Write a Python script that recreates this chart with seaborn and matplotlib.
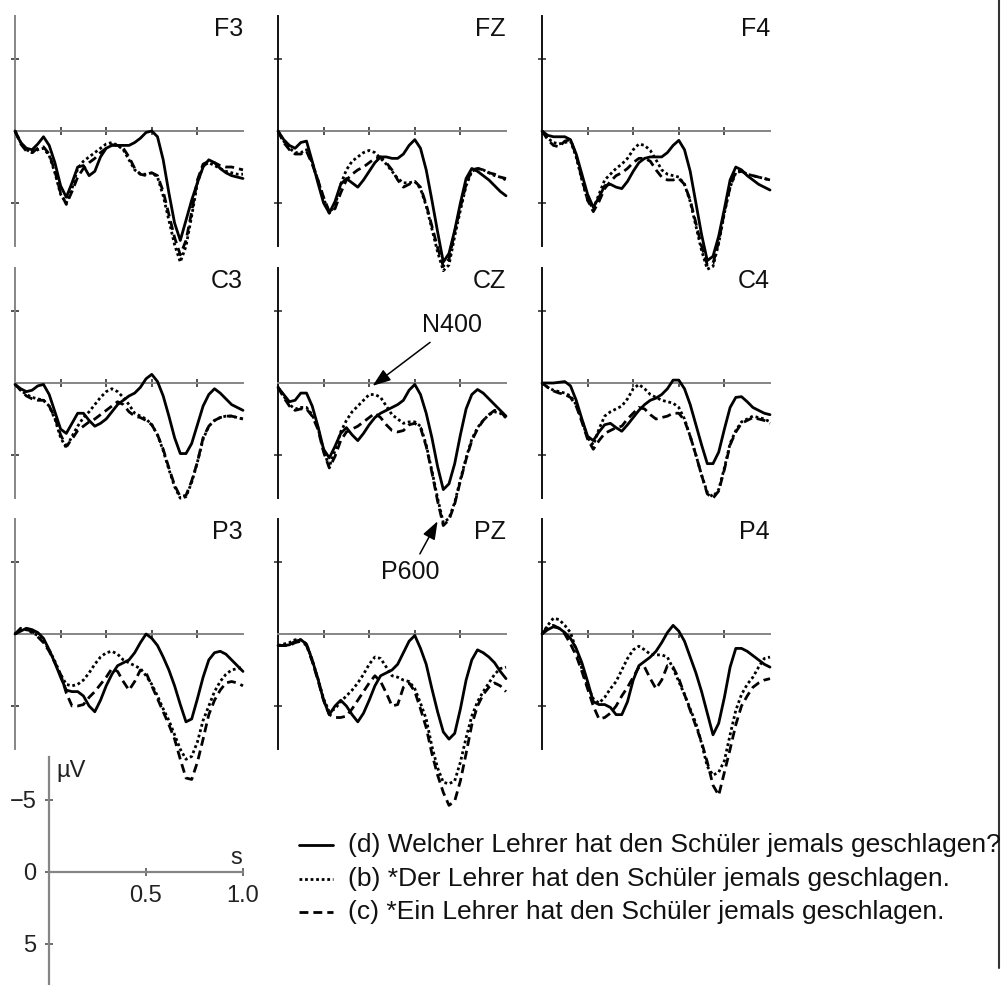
import numpy as np
import pandas as pd
import seaborn as sns
import matplotlib
matplotlib.use('Agg')
from matplotlib import pyplot as plt
from matplotlib.lines import Line2D

# time base of every ERP trace (s) and the three sentence conditions
TIME = np.linspace(0, 1.0, 41)
ELECTRODES = ['F3', 'FZ', 'F4', 'C3', 'CZ', 'C4', 'P3', 'PZ', 'P4']
CONDITIONS = ['d', 'b', 'c']
LEGEND_TEXT = ['(d) Welcher Lehrer hat den Schüler jemals geschlagen?',
               '(b) *Der Lehrer hat den Schüler jemals geschlagen.',
               '(c) *Ein Lehrer hat den Schüler jemals geschlagen.']

# amplitudes in microvolt (negative up)
F3_D = [0, 0.8, 1.2, 1.3, 0.9, 0.4, 1.0, 2.2, 3.8, 4.6, 3.6, 2.5, 2.4, 3.1, 2.8, 1.8, 1.2, 1.0, 1.0, 1.0, 1.0,
        0.8, 0.5, 0.1, 0.0, 0.4, 2.0, 4.3, 6.4, 7.6, 6.2, 4.8, 3.6, 2.5, 2.0, 2.2, 2.6, 2.9, 3.1, 3.2, 3.3]
F3_B = [0, 0.8, 1.3, 1.5, 1.3, 1.2, 1.7, 2.9, 4.4, 5.0, 4.0, 2.6, 2.1, 1.8, 1.5, 1.2, 0.9, 0.8, 1.0, 1.3, 2.0,
        2.7, 3.0, 3.0, 2.9, 3.2, 4.5, 6.2, 7.9, 9.1, 8.0, 5.9, 3.6, 2.4, 2.2, 2.4, 2.6, 2.8, 2.9, 3.0, 3.0]
F3_C = [0, 0.9, 1.4, 1.5, 1.2, 1.1, 1.6, 2.8, 4.3, 5.1, 4.2, 3.2, 2.6, 2.2, 1.9, 1.5, 1.2, 0.95, 1.0, 1.2, 1.8,
        2.6, 3.0, 3.1, 2.9, 3.1, 4.2, 5.8, 7.4, 8.6, 7.6, 5.6, 3.4, 2.3, 2.1, 2.2, 2.4, 2.5, 2.5, 2.6, 2.7]

FZ_D = [0, 0.6, 1.0, 1.2, 0.8, 0.7, 2.1, 3.6, 5.0, 5.7, 4.9, 3.7, 3.3, 3.6, 3.9, 3.4, 2.8, 2.2, 1.8, 1.8, 1.9,
        1.9, 1.6, 1.0, 0.6, 1.2, 2.7, 4.8, 7.0, 9.1, 8.5, 6.9, 5.0, 3.3, 2.6, 2.8, 3.1, 3.4, 3.8, 4.2, 4.5]
FZ_B = [0, 0.7, 1.2, 1.5, 1.5, 1.3, 2.2, 3.4, 4.7, 5.7, 5.2, 3.7, 2.7, 2.1, 1.8, 1.5, 1.35, 1.5, 1.9, 2.3, 2.8,
        3.3, 3.6, 3.6, 3.5, 4.0, 5.2, 6.8, 8.4, 9.7, 9.3, 7.3, 5.5, 3.8, 2.8, 2.6, 2.7, 2.9, 3.1, 3.2, 3.4]
FZ_C = [0, 0.8, 1.3, 1.6, 1.6, 1.4, 2.3, 3.4, 4.6, 5.6, 5.4, 4.3, 3.4, 3.0, 2.7, 2.5, 2.2, 1.9, 1.8, 2.2, 2.7,
        3.4, 3.9, 3.7, 3.5, 3.9, 5.1, 6.6, 8.1, 9.4, 8.9, 7.0, 5.3, 3.7, 2.7, 2.6, 2.7, 2.9, 3.0, 3.2, 3.3]

F4_D = [0, 0.3, 0.4, 0.4, 0.4, 0.6, 1.6, 3.0, 4.4, 5.3, 4.6, 3.8, 3.7, 3.9, 4.0, 3.5, 2.8, 2.2, 1.9, 1.8, 1.8,
        1.8, 1.5, 1.0, 0.65, 1.3, 2.8, 5.0, 7.2, 9.0, 8.7, 7.3, 5.4, 3.4, 2.5, 2.7, 3.1, 3.4, 3.7, 3.9, 4.1]
F4_B = [0, 0.5, 0.8, 0.9, 0.8, 0.7, 1.8, 3.4, 4.8, 5.4, 4.4, 3.4, 3.0, 2.6, 2.3, 1.9, 1.3, 0.9, 1.0, 1.35, 2.0,
        2.7, 3.0, 3.1, 3.2, 3.7, 4.9, 6.6, 8.3, 9.6, 9.4, 7.8, 5.7, 3.9, 2.9, 2.8, 3.0, 3.1, 3.2, 3.3, 3.4]
F4_C = [0, 0.6, 1.0, 1.1, 0.7, 0.6, 1.7, 3.3, 4.8, 5.6, 4.9, 4.0, 3.5, 3.1, 2.9, 2.6, 2.2, 1.9, 1.9, 2.1, 2.7,
        3.2, 3.4, 3.4, 3.3, 3.7, 4.8, 6.4, 8.0, 9.3, 9.2, 7.7, 5.6, 3.9, 2.8, 2.8, 3.0, 3.1, 3.2, 3.3, 3.4]

C3_D = [0.1, 0.4, 0.6, 0.5, 0.2, 0.1, 0.8, 2.0, 3.2, 3.5, 2.8, 2.1, 2.1, 2.6, 3.0, 2.8, 2.5, 2.0, 1.5, 1.2, 0.9,
        0.7, 0.3, -0.3, -0.6, -0.1, 0.9, 2.3, 3.8, 4.9, 4.9, 4.2, 2.9, 1.6, 0.8, 0.4, 0.7, 1.1, 1.5, 1.7, 1.9]
C3_B = [0.1, 0.5, 0.8, 1.0, 1.1, 1.2, 1.6, 2.5, 3.8, 4.5, 3.7, 3.0, 2.4, 2.0, 1.5, 1.0, 0.6, 0.4, 0.6, 1.0, 1.5,
        2.1, 2.3, 2.5, 2.9, 3.6, 4.7, 6.0, 7.2, 8.0, 7.9, 6.9, 5.5, 3.9, 3.0, 2.6, 2.4, 2.3, 2.3, 2.4, 2.5]
C3_C = [0.1, 0.5, 0.9, 1.1, 1.2, 1.2, 1.6, 2.4, 3.6, 4.4, 3.9, 3.3, 3.0, 2.7, 2.5, 2.2, 1.9, 1.6, 1.3, 1.5, 2.0,
        2.3, 2.4, 2.6, 2.9, 3.6, 4.6, 5.9, 7.1, 7.9, 7.8, 6.8, 5.5, 3.8, 3.0, 2.6, 2.4, 2.3, 2.3, 2.4, 2.5]

CZ_D = [0.3, 0.8, 1.3, 1.2, 0.7, 0.7, 1.6, 3.0, 4.6, 5.2, 4.4, 3.5, 3.1, 3.6, 4.0, 3.5, 2.9, 2.4, 2.1, 1.9, 1.7,
        1.5, 1.2, 0.5, 0.1, 0.8, 2.1, 3.8, 5.8, 7.4, 7.0, 5.6, 3.6, 1.8, 0.8, 0.45, 0.7, 1.1, 1.5, 1.9, 2.3]
CZ_B = [0.3, 0.9, 1.5, 1.8, 1.7, 1.7, 2.2, 3.1, 4.7, 5.8, 4.7, 3.4, 2.6, 2.0, 1.6, 1.2, 0.8, 0.8, 1.0, 1.6, 2.2,
        2.5, 2.8, 2.7, 2.7, 3.0, 4.3, 6.1, 8.0, 9.7, 9.4, 8.3, 6.7, 5.2, 3.9, 3.1, 2.6, 2.2, 2.0, 2.1, 2.4]
CZ_C = [0.3, 1.0, 1.6, 1.9, 1.8, 1.8, 2.3, 3.2, 4.8, 5.9, 5.1, 4.0, 3.4, 3.2, 3.0, 2.7, 2.4, 2.1, 2.4, 2.9, 3.3,
        3.4, 3.3, 2.9, 2.8, 3.1, 4.4, 6.2, 8.2, 9.9, 9.5, 8.4, 6.8, 5.3, 4.0, 3.2, 2.6, 2.2, 1.9, 2.0, 2.4]

C4_D = [0, 0, 0, -0.05, -0.1, 0.2, 1.2, 2.5, 3.7, 4.0, 3.4, 2.9, 2.8, 3.1, 3.35, 2.9, 2.4, 1.9, 1.5, 1.2, 1.05,
        0.8, 0.4, -0.2, -0.2, 0.4, 1.5, 2.9, 4.3, 5.6, 5.6, 4.8, 3.2, 1.7, 1.0, 0.95, 1.3, 1.7, 1.9, 2.1, 2.2]
C4_B = [0, 0.3, 0.5, 0.6, 0.7, 0.9, 1.5, 2.6, 3.8, 4.3, 3.2, 2.3, 2.0, 1.8, 1.6, 1.1, 0.4, 0.1, 0.4, 0.8, 1.0,
        1.2, 1.3, 1.4, 1.7, 2.5, 3.7, 5.0, 6.4, 7.6, 7.9, 7.4, 5.9, 4.2, 3.3, 2.7, 2.5, 2.3, 2.4, 2.5, 2.7]
C4_C = [0, 0.3, 0.55, 0.7, 0.8, 1.0, 1.6, 2.7, 3.9, 4.6, 4.0, 3.5, 3.3, 3.1, 3.0, 2.5, 2.1, 1.7, 1.8, 2.2, 2.5,
        2.4, 2.3, 2.1, 2.1, 2.6, 3.7, 5.0, 6.4, 7.7, 8.0, 7.5, 6.0, 4.3, 3.4, 2.8, 2.6, 2.4, 2.5, 2.6, 2.8]

P3_D = [0, -0.2, -0.4, -0.3, -0.1, 0.3, 1.1, 2.0, 3.0, 3.9, 4.0, 4.0, 4.3, 5.0, 5.4, 4.6, 3.6, 2.8, 2.2, 2.0, 1.8,
        1.3, 0.6, 0.0, 0.3, 0.8, 1.6, 2.5, 3.6, 4.9, 6.1, 5.9, 4.5, 3.0, 1.8, 1.3, 1.2, 1.4, 1.8, 2.2, 2.6]
P3_B = [0, -0.3, -0.3, -0.1, 0.1, 0.5, 1.1, 1.9, 2.8, 3.5, 3.6, 3.5, 3.2, 2.7, 2.1, 1.6, 1.3, 1.2, 1.4, 1.8, 2.0,
        2.2, 2.4, 2.9, 3.5, 4.3, 5.2, 6.0, 7.0, 8.0, 8.7, 8.5, 7.5, 6.0, 5.0, 4.0, 3.3, 2.8, 2.5, 2.4, 2.3]
P3_C = [0, -0.4, -0.3, -0.2, 0.2, 0.6, 1.2, 2.0, 2.8, 4.1, 5.0, 5.0, 4.9, 4.4, 4.0, 3.5, 3.0, 2.4, 2.6, 3.3, 3.9,
        3.3, 2.5, 2.7, 3.6, 4.5, 5.4, 6.3, 7.3, 8.7, 10.0, 10.1, 8.9, 7.3, 5.6, 4.6, 3.9, 3.4, 3.3, 3.4, 3.6]

PZ_D = [0.8, 0.8, 0.75, 0.5, 0.4, 0.7, 1.8, 3.1, 4.6, 5.6, 5.0, 4.6, 5.0, 5.6, 6.1, 5.5, 4.6, 3.6, 2.9, 2.7, 2.5,
        2.1, 1.3, 0.5, 0.1, 1.0, 2.1, 3.8, 5.4, 6.8, 7.3, 6.9, 5.2, 3.2, 1.8, 1.1, 1.3, 1.6, 2.0, 2.6, 3.1]
PZ_B = [0.8, 0.7, 0.6, 0.4, 0.4, 0.7, 1.8, 3.1, 4.5, 5.4, 5.2, 4.7, 4.3, 3.9, 3.4, 2.8, 2.1, 1.6, 1.7, 2.3, 2.9,
        3.0, 3.2, 3.3, 3.8, 4.8, 5.9, 7.8, 9.3, 10.3, 10.4, 10.2, 8.9, 7.2, 5.7, 4.7, 4.0, 3.4, 2.8, 2.4, 2.3]
PZ_C = [0.8, 0.8, 0.8, 0.6, 0.5, 0.8, 1.9, 3.2, 4.6, 5.6, 5.8, 5.8, 5.7, 5.2, 4.6, 4.0, 3.4, 2.9, 3.3, 4.1, 5.0,
        4.9, 3.7, 3.4, 4.0, 5.2, 6.5, 8.3, 9.8, 11.0, 11.9, 11.6, 10.2, 8.3, 6.3, 5.0, 4.2, 3.7, 3.4, 3.6, 4.0]

P4_D = [0, -0.3, -0.5, -0.4, -0.1, 0.3, 1.0, 2.0, 3.3, 4.7, 4.9, 4.9, 5.1, 5.6, 5.6, 4.7, 3.2, 2.2, 1.9, 1.6, 1.2,
        0.6, -0.1, -0.6, -0.2, 0.5, 1.6, 2.7, 4.0, 5.5, 7.0, 6.2, 4.4, 2.3, 1.0, 1.0, 1.2, 1.5, 1.8, 2.1, 2.3]
P4_B = [0, -0.6, -1.1, -1.0, -0.6, -0.1, 1.1, 2.4, 3.6, 4.5, 4.8, 4.4, 3.8, 3.3, 2.5, 1.7, 1.1, 0.85, 1.1, 1.4, 1.45,
        1.45, 1.6, 2.4, 3.3, 4.2, 5.2, 6.2, 7.6, 9.2, 9.8, 9.6, 8.8, 7.0, 5.3, 4.2, 3.5, 3.0, 2.3, 1.7, 1.6]
P4_C = [0, -0.5, -0.6, -0.4, 0.0, 0.7, 1.5, 2.6, 3.8, 5.0, 5.9, 5.8, 5.5, 5.0, 4.3, 3.7, 3.0, 2.3, 2.3, 3.1, 3.8,
        3.2, 2.2, 2.3, 3.1, 4.2, 5.3, 6.4, 7.5, 8.9, 10.5, 11.2, 9.6, 8.0, 6.3, 5.0, 4.3, 3.7, 3.4, 3.2, 3.1]

CURVES = {
    'F3': (F3_D, F3_B, F3_C), 'FZ': (FZ_D, FZ_B, FZ_C), 'F4': (F4_D, F4_B, F4_C),
    'C3': (C3_D, C3_B, C3_C), 'CZ': (CZ_D, CZ_B, CZ_C), 'C4': (C4_D, C4_B, C4_C),
    'P3': (P3_D, P3_B, P3_C), 'PZ': (PZ_D, PZ_B, PZ_C), 'P4': (P4_D, P4_B, P4_C),
}

rows = []
for el, curves in CURVES.items():
    for cond, vals in zip(CONDITIONS, curves):
        for t, v in zip(TIME, vals):
            rows.append((el, cond, t, v))
df = pd.DataFrame(rows, columns=['electrode', 'condition', 'time', 'uv'])

sns.set_style('white')
plt.rcParams['font.family'] = ['Liberation Sans', 'DejaVu Sans']

DASHES = {'d': '', 'b': (1, 1.0), 'c': (3.2, 1.8)}
GREY = '#858585'

W, H = 1003, 985
fig = plt.figure(figsize=(W / 100, H / 100), dpi=100)

COL_X = [15, 278, 542]
ROW_ZERO = [131, 383, 634]
PX_UV = 14.4


def px_axes(x0, zero_y, width, ymax=8):
    top = zero_y - ymax * PX_UV
    height = 2 * ymax * PX_UV
    return fig.add_axes([x0 / W, 1 - (top + height) / H, width / W, height / H])


def style_axes(ax, left_color):
    ax.patch.set_visible(False)
    ax.set_ylim(8, -8)
    for s in ['top', 'right']:
        ax.spines[s].set_visible(False)
    ax.spines['bottom'].set_position(('data', 0))
    ax.spines['bottom'].set_color(GREY)
    ax.spines['bottom'].set_linewidth(1.4)
    ax.spines['left'].set_color(left_color)
    ax.spines['left'].set_linewidth(1.4)
    ax.set_xlabel('')
    ax.set_ylabel('')


panel_axes = {}
for i, el in enumerate(ELECTRODES):
    r, c = divmod(i, 3)
    ax = px_axes(COL_X[c], ROW_ZERO[r], 228)
    sns.lineplot(data=df[df['electrode'] == el], x='time', y='uv', style='condition',
                 style_order=CONDITIONS, dashes=DASHES, color='black', linewidth=2.0,
                 estimator=None, legend=False, ax=ax, clip_on=False, zorder=3)
    style_axes(ax, GREY if c == 0 else '#111111')
    ax.set_xlim(0, 1.0)
    ax.set_xticks([0.2, 0.4, 0.6, 0.8])
    ax.set_yticks([-5, 5])
    ax.tick_params(direction='inout', length=6, width=1.2, colors='#333333',
                   labelbottom=False, labelleft=False, bottom=True, left=True)
    ax.text(1.0, -7.9, el, ha='right', va='top', fontsize=18, color='#111111')
    panel_axes[el] = ax

# component labels
cz = panel_axes['CZ']
cz.annotate('N400', xy=(0.415, 0.2), xytext=(0.765, -4.0), fontsize=18,
            ha='center', va='center', annotation_clip=False, color='#111111',
            arrowprops=dict(arrowstyle='-|>,head_length=0.55,head_width=0.2',
                            color='black', lw=1.1, mutation_scale=20, shrinkB=0))
cz.annotate('P600', xy=(0.70, 9.6), xytext=(0.58, 13.1), fontsize=18,
            ha='center', va='center', annotation_clip=False, color='#111111',
            arrowprops=dict(arrowstyle='-|>,head_length=0.55,head_width=0.2',
                            color='black', lw=1.1, mutation_scale=20, shrinkB=0))

# calibration axes
sc = px_axes(49, 872, 194)
style_axes(sc, GREY)
sc.spines['bottom'].set_linewidth(1.6)
sc.spines['left'].set_linewidth(1.6)
sc.set_xlim(0, 1.0)
sc.set_xticks([0.5, 1.0])
sc.set_xticklabels(['0.5', '1.0'])
sc.set_yticks([-5, 0, 5])
sc.set_yticklabels(['\u22125', '0', '5'])
sc.tick_params(direction='inout', length=6, width=1.2, colors='#555555',
               labelcolor='#222222', labelsize=17, pad=6, bottom=True, left=True)
sc.text(0.04, -7.0, 'µV', ha='left', va='center', fontsize=17, color='#222222')
sc.text(0.965, -1.0, 's', ha='center', va='center', fontsize=17, color='#222222')

# legend
LEG_Y = [845, 879, 912]
for cond, label, y in zip(CONDITIONS, LEGEND_TEXT, LEG_Y):
    dash = DASHES[cond]
    ln = Line2D([299 / W, 333 / W], [1 - y / H, 1 - y / H], transform=fig.transFigure,
                color='black', linewidth=2.0)
    if dash:
        ln.set_dashes(dash)
    fig.add_artist(ln)
    fig.text(348 / W, 1 - y / H, label, ha='left', va='center', fontsize=19, color='#111111')

# scan border at the right edge
fig.add_artist(Line2D([999 / W, 999 / W], [1 - 968 / H, 1.0], transform=fig.transFigure,
                      color='#333333', linewidth=1.5))

fig.savefig('out.png', dpi=100)
